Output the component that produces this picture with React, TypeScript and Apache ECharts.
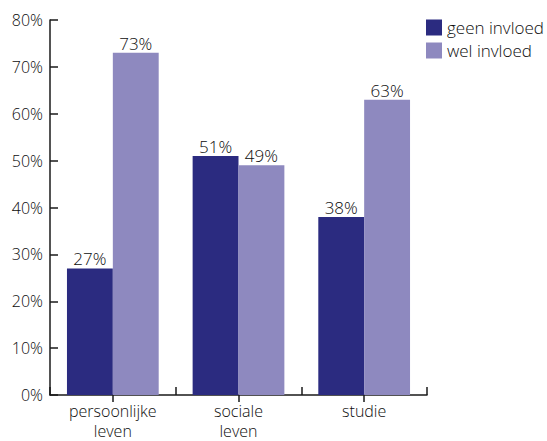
import React, { useEffect, useRef } from "react";
import * as echarts from "echarts";

const categories = ["persoonlijke\nleven", "sociale\nleven", "studie"];
const geenInvloed = [27, 51, 38];
const welInvloed = [73, 49, 63];
const seriesNames = ["geen invloed", "wel invloed"];
const yMax = 80;
const yInterval = 10;

const FONT = "'Open Sans', 'Noto Sans', sans-serif";
const TXT = "#0d0d0d";

export default function App() {
  const ref = useRef<HTMLDivElement>(null);
  useEffect(() => {
    if (!ref.current) return;
    const chart = echarts.init(ref.current, null, { renderer: "svg" });
    const label = {
      show: true,
      position: "top" as const,
      formatter: "{c}%",
      color: TXT,
      fontSize: 17,
      fontFamily: FONT,
      fontWeight: 300,
      distance: 1,
    };
    chart.setOption({
      animation: false,
      textStyle: { fontFamily: FONT },
      grid: { left: 50, right: 120, top: 20, bottom: 46, containLabel: false, outerBoundsMode: "none" },
      legend: {
        orient: "vertical",
        left: 426,
        top: 19,
        itemWidth: 16,
        itemHeight: 16,
        itemGap: 6,
        icon: "rect",
        padding: 0,
        textStyle: { fontSize: 17, color: TXT, fontFamily: FONT, fontWeight: 300 },
        data: seriesNames,
      },
      xAxis: [
        {
          type: "category",
          data: categories,
          axisLine: { lineStyle: { color: "#1a1a1a", width: 1.5 } },
          axisTick: { show: true, inside: true, length: 8, lineStyle: { color: "#1a1a1a", width: 1.5 } },
          axisLabel: { color: TXT, fontSize: 16, fontFamily: FONT, fontWeight: 300, lineHeight: 20, margin: 6 },
        },
        {
          type: "category",
          data: categories,
          position: "bottom",
          axisLine: { show: false },
          axisTick: { show: true, alignWithLabel: true, length: 7, lineStyle: { color: "#1a1a1a", width: 1.5 } },
          axisLabel: { show: false },
        },
      ],
      yAxis: {
        type: "value",
        min: 0,
        max: yMax,
        interval: yInterval,
        axisLine: { show: true, lineStyle: { color: "#1a1a1a", width: 1.5 } },
        axisTick: { show: true, inside: true, length: 8, lineStyle: { color: "#1a1a1a", width: 1.5 } },
        splitLine: { show: false },
        axisLabel: { formatter: "{value}%", color: TXT, fontSize: 16, fontFamily: FONT, fontWeight: 300, margin: 7 },
      },
      series: [
        {
          name: seriesNames[0],
          type: "bar",
          data: geenInvloed,
          barGap: "0%",
          barCategoryGap: "27%",
          itemStyle: { color: "#2b2b80" },
          label,
        },
        {
          name: seriesNames[1],
          type: "bar",
          data: welInvloed,
          barGap: "0%",
          barCategoryGap: "27%",
          itemStyle: { color: "#8e89bf" },
          label,
        },
      ],
    });
    return () => chart.dispose();
  }, []);
  return <div ref={ref} style={{ width: 547, height: 441, position: "absolute", left: 0, top: 0 }} />;
}
